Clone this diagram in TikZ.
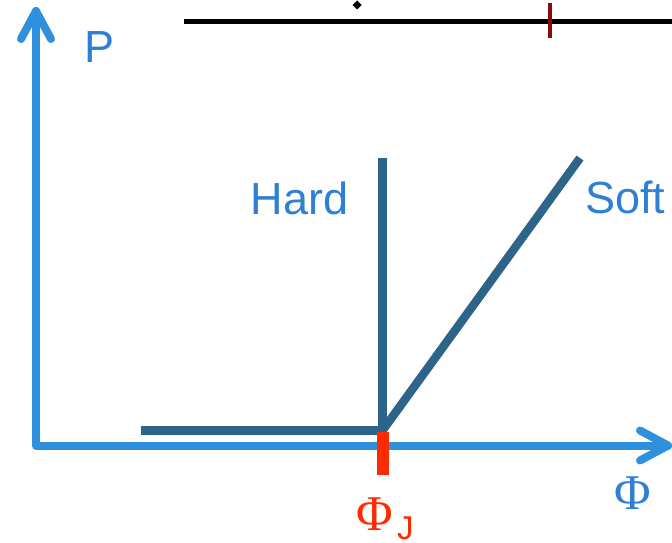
\documentclass[tikz,border=0pt]{standalone}
\usepackage{fontspec}
\usetikzlibrary{calc}
\setmainfont{Liberation Sans}
\newfontfamily\serifphi{Liberation Serif}
\definecolor{axisblue}{HTML}{2F90DD}
\definecolor{curveblue}{HTML}{2E6489}
\definecolor{textblue}{HTML}{2F80D4}
\definecolor{jred}{HTML}{FF2A00}
\definecolor{tickred}{HTML}{8E0A0A}
\tikzset{
  axis/.style={draw=axisblue, line width=8pt, line cap=round, line join=round},
  curve/.style={draw=curveblue, line width=8.5pt},
  lbl/.style={text=textblue, font=\fontsize{45}{54}\selectfont, inner sep=0pt, anchor=base west},
  philbl/.style={font=\fontsize{50}{60}\serifphi, inner sep=0pt, anchor=base west},
}
\begin{document}
\begin{tikzpicture}[x=1pt,y=-1pt]
\useasboundingbox (0,0) rectangle (672,543);
\clip (0,0) rectangle (672,543);
% top line
\coordinate (tl) at (184,21.5);
\coordinate (tr) at (672,21.5);
\draw[black, line width=5pt] (tl) -- (tr);
\coordinate (dia) at (357,5);
\fill[black] (dia) ++(0,-4.5) -- ++(4.5,4.5) -- ++(-4.5,4.5) -- ++(-4.5,-4.5) -- cycle;
\coordinate (tkt) at (550,3);
\coordinate (tkb) at (550,38);
\draw[tickred, line width=3.5pt] (tkt) -- (tkb);
% axes
\coordinate (O) at (36,445.5);
\coordinate (ytip) at (36,11);
\coordinate (xtip) at (668,445.5);
\draw[axis] (ytip) -- (O) -- (xtip);
\draw[axis] (ytip) ++(-15,28) -- (ytip) -- ++(15,28);
\draw[axis] (xtip) ++(-28,-15) -- (xtip) -- ++(-28,15);
% curves
\coordinate (J) at (382.5,430.5);
\coordinate (hl) at (141,430.5);
\coordinate (htop) at (382.5,158);
\coordinate (stop) at (580,158);
\draw[curve] (hl) -- ($(J)+(4.25,0)$);
\draw[curve] (J |- htop) -- ($(J)+(0,4.25)$);
\draw[curve, line join=miter] (J) -- (stop);
% red bar
\coordinate (rb1) at (383,432);
\coordinate (rb2) at (383,475);
\draw[jred, line width=12pt] (rb1) -- (rb2);
% labels
\node[lbl] (P) at (84,63) {P};
\node[lbl] (hard) at (250.5,214) {Hard};
\node[lbl] (soft) at (585,213) {Soft};
\node[philbl, text=textblue] (phi) at (614,509) {Φ};
\node[philbl, text=jred] (phiJ) at (356.5,530) {Φ};
\node[text=jred, font=\fontsize{33}{40}\selectfont, inner sep=0pt, anchor=base west] (Jsub) at (397,539.5) {J};
\end{tikzpicture}
\end{document}
